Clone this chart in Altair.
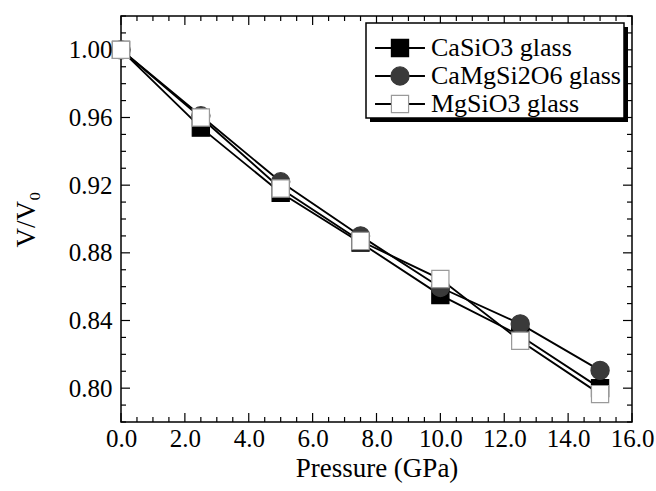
import altair as alt
import pandas as pd

# ---- data ----
pressure = [0.0, 2.5, 5.0, 7.5, 10.0, 12.5, 15.0]
casio3 = [1.000, 0.954, 0.9155, 0.886, 0.855, 0.831, 0.800]
camgsi2o6 = [1.000, 0.961, 0.922, 0.890, 0.8595, 0.838, 0.8105]
mgsio3 = [1.000, 0.960, 0.918, 0.887, 0.8645, 0.828, 0.7965]
series_names = ["CaSiO3 glass", "CaMgSi2O6 glass", "MgSiO3 glass"]

x_major = [0, 2, 4, 6, 8, 10, 12, 14, 16]
x_minor = [0.5, 1, 1.5, 2.5, 3, 3.5, 4.5, 5, 5.5, 6.5, 7, 7.5, 8.5, 9, 9.5,
           10.5, 11, 11.5, 12.5, 13, 13.5, 14.5, 15, 15.5]
y_major = [0.80, 0.84, 0.88, 0.92, 0.96, 1.00]
y_minor = [0.78, 0.79, 0.81, 0.82, 0.83, 0.85, 0.86, 0.87, 0.89, 0.90, 0.91,
           0.93, 0.94, 0.95, 0.97, 0.98, 0.99, 1.01, 1.02]

W, H = 511, 406
FONT = "Liberation Serif"

rows = []
for name, vals in zip(series_names, [casio3, camgsi2o6, mgsio3]):
    for p, v in zip(pressure, vals):
        rows.append({"series": name, "p": p, "v": v, "k": series_names.index(name)})
df = pd.DataFrame(rows)

xs = alt.Scale(domain=[0, 16], nice=False, zero=False)
ys = alt.Scale(domain=[0.78, 1.02], nice=False, zero=False)

xaxis = alt.Axis(values=x_major, format=".1f", title="Pressure (GPa)",
                 ticks=False, domain=False, grid=False, labelFlush=False,
                 labelOverlap=False, labelPadding=4, titlePadding=4)
yaxis = alt.Axis(values=y_major, format=".2f", title="V/V\u2080",
                 ticks=False, domain=False, grid=False, labelFlush=False,
                 labelOverlap=False, labelPadding=9, titlePadding=28)

SYM = 676  # symbol box 26 px (keeps rows aligned with 26 px labels)
sq = "M-0.66,-0.66H0.66V0.66H-0.66Z"
ci = "M0.7,0A0.7,0.7,0,1,1,-0.7,0A0.7,0.7,0,1,1,0.7,0Z"
line_sym = "M-1.92,0H-0.66M0.66,0H1.92"

FX, FY = 245, 7          # legend frame
LX, LY = 254, 7          # legend entries
leg_common = dict(orient="none", legendX=LX, legendY=LY, title=None,
                  symbolSize=SYM, padding=11, rowPadding=1,
                  labelFont=FONT, labelFontSize=26, labelColor="black",
                  labelOffset=17, labelLimit=400)

lines = alt.Chart(df).mark_line(strokeWidth=1.9).encode(
    x=alt.X("p:Q", scale=xs, axis=xaxis),
    y=alt.Y("v:Q", scale=ys, axis=yaxis),
    color=alt.Color("series:N", scale=alt.Scale(domain=series_names, range=["black"] * 3),
                    legend=alt.Legend(symbolType=line_sym, symbolStrokeWidth=1.8,
                                      labelExpr="''", **leg_common)),
    order="p:Q",
)

leg_pts = alt.Legend(symbolStrokeWidth=1.2, **leg_common)
points = alt.Chart(df).mark_point(filled=True, size=SYM, opacity=1, strokeWidth=1.2).encode(
    x=alt.X("p:Q", scale=xs, axis=xaxis),
    y=alt.Y("v:Q", scale=ys, axis=yaxis),
    shape=alt.Shape("series:N", scale=alt.Scale(domain=series_names, range=[sq, ci, sq]), legend=leg_pts),
    fill=alt.Fill("series:N", scale=alt.Scale(domain=series_names, range=["black", "#3a3a3a", "white"]), legend=leg_pts),
    stroke=alt.Stroke("series:N", scale=alt.Scale(domain=series_names, range=["black", "#3a3a3a", "#9a9a9a"]), legend=leg_pts),
    order="k:Q",
)

# tick marks (inside, all four sides)
def xticks(vals, length):
    d = pd.DataFrame({"t": vals})
    b = alt.Chart(d).mark_rule(color="black", strokeWidth=1.2)
    bottom = b.encode(x=alt.X("t:Q", scale=xs, axis=xaxis), y=alt.value(H), y2=alt.value(H - length))
    top = b.encode(x=alt.X("t:Q", scale=xs, axis=xaxis), y=alt.value(0), y2=alt.value(length))
    return [bottom, top]

def yticks(vals, length):
    d = pd.DataFrame({"t": vals})
    b = alt.Chart(d).mark_rule(color="black", strokeWidth=1.2)
    left = b.encode(y=alt.Y("t:Q", scale=ys, axis=yaxis), x=alt.value(0), x2=alt.value(length))
    right = b.encode(y=alt.Y("t:Q", scale=ys, axis=yaxis), x=alt.value(W), x2=alt.value(W - length))
    return [left, right]

ticks = xticks(x_major, 9) + xticks(x_minor, 5) + yticks(y_major, 9) + yticks(y_minor, 5)

# legend frame with drop shadow
frame_df = pd.DataFrame({"a": [0]})
shadow = alt.Chart(frame_df).mark_rect(fill="black").encode(
    x=alt.value(FX + 4), x2=alt.value(FX + 262), y=alt.value(FY + 4), y2=alt.value(FY + 99))
box = alt.Chart(frame_df).mark_rect(fill="white", stroke="black", strokeWidth=1.5).encode(
    x=alt.value(FX), x2=alt.value(FX + 258), y=alt.value(FY), y2=alt.value(FY + 95))

chart = alt.layer(*ticks, lines, points, shadow, box).resolve_scale(
    color="independent", shape="independent", fill="independent", stroke="independent"
).properties(
    width=W, height=H,
    autosize=alt.AutoSizeParams(type="none"),
    padding={"left": 121, "top": 16, "right": 24, "bottom": 69},
    background="white",
).configure_view(
    stroke="black", strokeWidth=1.5
).configure_axis(
    labelFont=FONT, labelFontSize=25, labelColor="black",
    titleFont=FONT, titleFontSize=27, titleColor="black", titleFontWeight="normal",
)

chart.save("out.html", embed_options={"renderer": "svg", "actions": False})
